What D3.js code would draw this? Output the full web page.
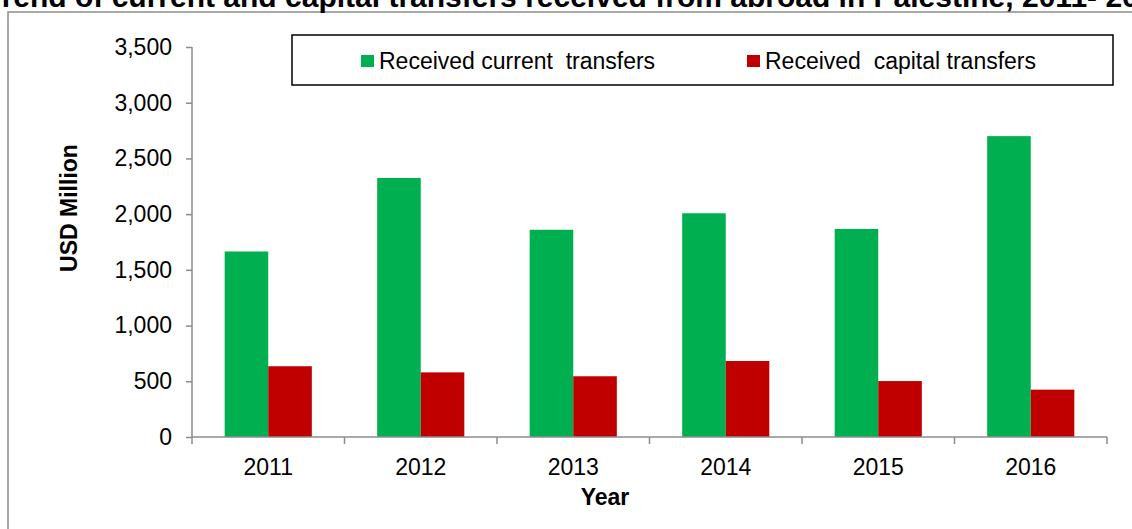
<!DOCTYPE html>
<html>
<head>
<meta charset="utf-8">
<script src="https://cdn.jsdelivr.net/npm/d3@7"></script>
<style>
  body { margin: 0; background: #fff; }
  svg { font-family: "Liberation Sans", Arial, sans-serif; }
</style>
</head>
<body>
<div id="chart"></div>
<script>
// data
var years = ["2011", "2012", "2013", "2014", "2015", "2016"];
var currentTransfers = [1665, 2325, 1860, 2008, 1867, 2700];
var capitalTransfers = [635, 580, 545, 682, 502, 425];
var seriesNames = ["Received current  transfers", "Received  capital transfers"];
var seriesColors = ["#00b050", "#c00000"];
var yTicks = [0, 500, 1000, 1500, 2000, 2500, 3000, 3500];

var W = 1132, H = 529;
var margin = { top: 47, right: 25, bottom: 92, left: 192 },
    width = W - margin.left - margin.right,
    height = H - margin.top - margin.bottom;

var root = d3.select("#chart")
    .append("svg")
    .attr("width", W)
    .attr("height", H);

// outer frame (runs off right / bottom)
root.append("rect")
    .attr("x", 8).attr("y", 12)
    .attr("width", W + 10).attr("height", H + 10)
    .attr("fill", "none")
    .attr("stroke", "#8c8c8c")
    .attr("stroke-width", 1.5);

// title (cut at the edges as in the original)
root.append("text")
    .attr("x", -15)
    .attr("y", 7)
    .attr("font-weight", "bold")
    .style("font-size", "30px")
    .text("Trend of current and capital transfers received from abroad in Palestine, 2011- 2016");

var svg = root.append("g")
    .attr("transform", "translate(" + margin.left + "," + margin.top + ")");

// scales
var x0 = d3.scaleBand().domain(years).range([0, width]).paddingInner(0).paddingOuter(0);
var y = d3.scaleLinear().domain([0, 3500]).range([height, 0]);
var barW = x0.bandwidth() / 3.5;

// bars
var groups = svg.selectAll(".year")
    .data(years)
    .enter()
    .append("g")
    .attr("class", "year")
    .attr("transform", function (d) { return "translate(" + x0(d) + ",0)"; });

[currentTransfers, capitalTransfers].forEach(function (vals, s) {
    groups.append("rect")
        .attr("x", function (d, i) { return barW * 0.75 + s * barW; })
        .attr("width", barW)
        .attr("y", function (d, i) { return y(vals[i]); })
        .attr("height", function (d, i) { return height - y(vals[i]); })
        .attr("fill", seriesColors[s]);
});

// y axis
var yAxis = d3.axisLeft(y).tickValues(yTicks).tickSize(6).tickPadding(14)
    .tickFormat(d3.format(","));
var gy = svg.append("g").call(yAxis);
gy.select(".domain").attr("stroke", "#8c8c8c").attr("stroke-width", 1.5)
    .attr("d", "M0," + height + "V0");
gy.selectAll(".tick line").attr("stroke", "#8c8c8c").attr("stroke-width", 1.5);
gy.selectAll(".tick text").style("font-size", "23px").attr("fill", "#000");

// x axis
var gx = svg.append("g").attr("transform", "translate(0," + height + ")")
    .call(d3.axisBottom(x0).tickSize(0).tickPadding(22));
gx.select(".domain").attr("stroke", "#8c8c8c").attr("stroke-width", 1.5)
    .attr("d", "M0,0H" + width);
gx.selectAll(".tick text").style("font-size", "23px").attr("fill", "#000");
// category boundary ticks
svg.append("g").selectAll("line")
    .data(years.concat(["end"]))
    .enter().append("line")
    .attr("x1", function (d, i) { return i * x0.step(); })
    .attr("x2", function (d, i) { return i * x0.step(); })
    .attr("y1", height).attr("y2", height + 7)
    .attr("stroke", "#8c8c8c").attr("stroke-width", 1.5);

// axis titles
svg.append("text")
    .attr("text-anchor", "middle")
    .attr("font-weight", "bold")
    .style("font-size", "23px")
    .attr("x", 413)
    .attr("y", height + 68)
    .text("Year");

svg.append("text")
    .attr("text-anchor", "middle")
    .attr("font-weight", "bold")
    .style("font-size", "23px")
    .attr("transform", "translate(-115," + (height / 2 - 34) + ") rotate(-90)")
    .text("USD Million");

// legend
var lg = root.append("g").attr("transform", "translate(292,35)");
lg.append("rect")
    .attr("width", 821).attr("height", 50)
    .attr("fill", "#fff").attr("stroke", "#000").attr("stroke-width", 1.5);
var legX = [69, 455];
seriesNames.forEach(function (n, i) {
    lg.append("rect")
        .attr("x", legX[i]).attr("y", 20)
        .attr("width", 13).attr("height", 12)
        .attr("fill", seriesColors[i]);
    lg.append("text")
        .attr("x", legX[i] + 18).attr("y", 34)
        .style("font-size", "23px")
        .style("white-space", "pre")
        .attr("xml:space", "preserve")
        .text(n);
});
</script>
</body>
</html>
